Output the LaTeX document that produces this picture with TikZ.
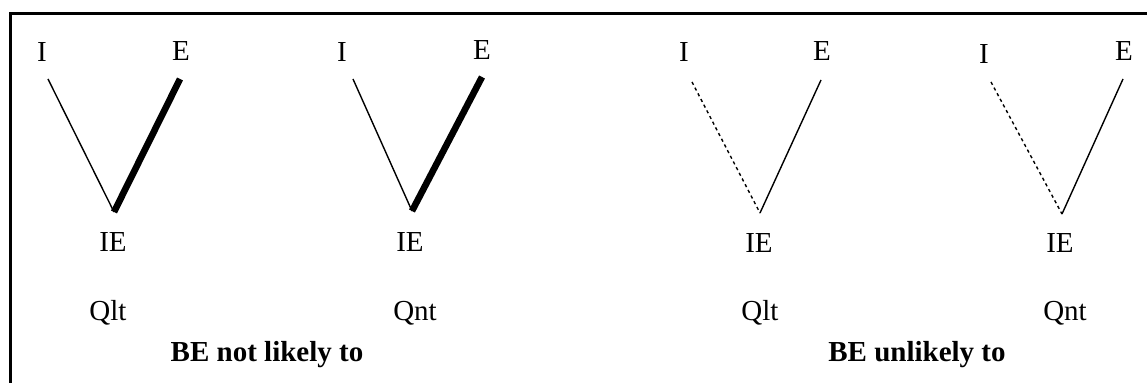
\documentclass[tikz,border=0pt]{standalone}
\usepackage{fontspec}
\setmainfont{Liberation Serif}
\tikzset{
  lbl/.style={font=\fontsize{14.5}{17}\selectfont, inner sep=0pt, anchor=base},
  verdict/.style={font=\fontsize{14.5}{17}\selectfont\bfseries, inner sep=0pt, anchor=base},
  plainleg/.style={line width=0.7pt},
  strongleg/.style={line width=3.3pt},
  weakleg/.style={line width=0.7pt, dash pattern=on 1.6pt off 1.6pt},
  frameline/.style={line width=1.5pt}
}

\begin{document}
\begin{tikzpicture}[x=0.5pt,y=-0.5pt]
  \useasboundingbox (0,0) rectangle (1147,383);
  \draw[frameline] (10.5,383) -- (10.5,14) -- (1147,14);

  % BE not likely to, Qlt
  \node[lbl] (i1) at (42,62) {I};
  \node[lbl] (e1) at (181,61) {E};
  \node[lbl] (ie1) at (113,252) {IE};
  \node[lbl] (q1) at (108,321) {Qlt};
  \coordinate (i1end) at (48,79);
  \coordinate (e1end) at (180,79);
  \coordinate (v1) at (114,212);
  \draw[plainleg] (i1end) -- (v1);
  \draw[strongleg] (e1end) -- (v1);

  % BE not likely to, Qnt
  \node[lbl] (i2) at (342,62) {I};
  \node[lbl] (e2) at (482,60) {E};
  \node[lbl] (ie2) at (410,252) {IE};
  \node[lbl] (q2) at (415,321) {Qnt};
  \coordinate (i2end) at (353,79);
  \coordinate (e2end) at (482,77);
  \coordinate (v2) at (412,211);
  \draw[plainleg] (i2end) -- (v2);
  \draw[strongleg] (e2end) -- (v2);

  % BE unlikely to, Qlt
  \node[lbl] (i3) at (684,62) {I};
  \node[lbl] (e3) at (822,61) {E};
  \node[lbl] (ie3) at (759,253) {IE};
  \node[lbl] (q3) at (760,321) {Qlt};
  \coordinate (i3end) at (692,82);
  \coordinate (e3end) at (821,80);
  \coordinate (v3) at (760,213);
  \draw[weakleg] (i3end) -- (v3);
  \draw[plainleg] (e3end) -- (v3);

  % BE unlikely to, Qnt
  \node[lbl] (i4) at (984,64) {I};
  \node[lbl] (e4) at (1124,61) {E};
  \node[lbl] (ie4) at (1060,253) {IE};
  \node[lbl] (q4) at (1065,321) {Qnt};
  \coordinate (i4end) at (991,82);
  \coordinate (e4end) at (1123,79);
  \coordinate (v4) at (1062,214);
  \draw[weakleg] (i4end) -- (v4);
  \draw[plainleg] (e4end) -- (v4);

  \node[verdict] (notlikely) at (267,362) {BE not likely to};
  \node[verdict] (unlikely) at (917,362) {BE unlikely to};
\end{tikzpicture}
\end{document}
